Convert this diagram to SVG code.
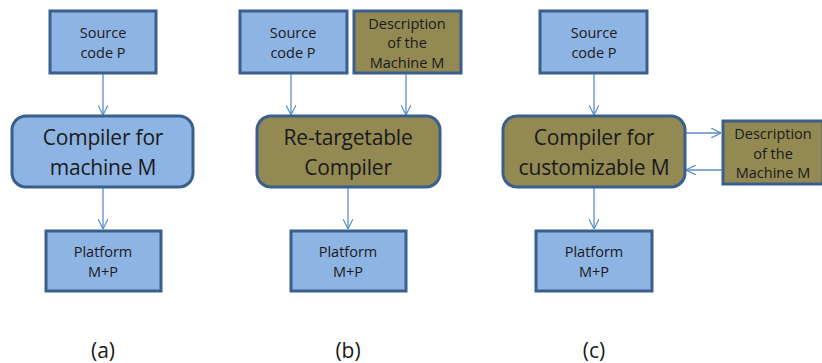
<svg xmlns="http://www.w3.org/2000/svg" width="822" height="363" viewBox="0 0 822 363">
<defs>
<marker id="ah" viewBox="0 0 10 10" refX="10" refY="5" markerWidth="10" markerHeight="10" markerUnits="userSpaceOnUse" orient="auto">
<path d="M0,0 L10,5 L0,10" fill="none" stroke="#5B8DCB" stroke-width="1.2"/>
</marker>
<style>
.blue{fill:#8EB4E3;stroke:#3A5F8C;stroke-width:3}
.olive{fill:#938953;stroke:#3A5F8C;stroke-width:3}
.conn line{stroke:#5B8DCB;stroke-width:1.3;marker-end:url(#ah)}
text{font-family:"Open Sans","Liberation Sans",sans-serif;fill:#1a1a1a;text-anchor:middle;dominant-baseline:central}
.s{font-size:14.5px}
.l{font-size:21px;letter-spacing:-0.2px}
.lab{font-size:21px;font-family:"Open Sans","Liberation Sans",sans-serif}
</style>
</defs>
<rect width="822" height="363" fill="#ffffff"/>

<g class="conn">
<line x1="103" y1="73" x2="103" y2="115"/>
<line x1="103" y1="187" x2="103" y2="229"/>
<line x1="291" y1="73" x2="291" y2="115"/>
<line x1="406" y1="73" x2="406" y2="115"/>
<line x1="348" y1="187" x2="348" y2="229"/>
<line x1="594" y1="73" x2="594" y2="115"/>
<line x1="594" y1="187" x2="594" y2="229"/>
<line x1="685" y1="133" x2="721" y2="133"/>
<line x1="722" y1="170" x2="686" y2="170"/>
</g>

<g id="a-source"><rect class="blue" x="50" y="11" width="106" height="62"/><text class="s" x="103" y="32">Source</text><text class="s" x="103" y="52">code P</text></g>
<g id="a-compiler"><rect class="blue" x="12" y="116" width="181" height="71" rx="14"/><text class="l" x="103" y="137">Compiler for</text><text class="l" x="103" y="167">machine M</text></g>
<g id="a-platform"><rect class="blue" x="46" y="231" width="115" height="60"/><text class="s" x="103" y="251">Platform</text><text class="s" x="103" y="271">M+P</text></g>

<g id="b-source"><rect class="blue" x="240" y="11" width="107" height="62"/><text class="s" x="293" y="32">Source</text><text class="s" x="293" y="52">code P</text></g>
<g id="b-desc"><rect class="olive" x="354" y="11" width="107" height="62"/><text class="s" x="407" y="23">Description</text><text class="s" x="407" y="42">of the</text><text class="s" x="407" y="62">Machine M</text></g>
<g id="b-compiler"><rect class="olive" x="257" y="116" width="183" height="71" rx="14"/><text class="l" x="348" y="137">Re-targetable</text><text class="l" x="348" y="167">Compiler</text></g>
<g id="b-platform"><rect class="blue" x="291" y="231" width="115" height="60"/><text class="s" x="348" y="251">Platform</text><text class="s" x="348" y="271">M+P</text></g>

<g id="c-source"><rect class="blue" x="540" y="11" width="107" height="62"/><text class="s" x="594" y="32">Source</text><text class="s" x="594" y="52">code P</text></g>
<g id="c-compiler"><rect class="olive" x="503" y="116" width="182" height="71" rx="14"/><text class="l" x="594" y="137">Compiler for</text><text class="l" x="594" y="167">customizable M</text></g>
<g id="c-desc"><rect class="olive" x="723" y="121" width="100" height="63"/><text class="s" x="773" y="133">Description</text><text class="s" x="773" y="153">of the</text><text class="s" x="773" y="172">Machine M</text></g>
<g id="c-platform"><rect class="blue" x="536" y="231" width="116" height="60"/><text class="s" x="594" y="251">Platform</text><text class="s" x="594" y="271">M+P</text></g>

<text class="lab" x="103" y="350">(a)</text>
<text class="lab" x="348" y="350">(b)</text>
<text class="lab" x="594" y="350">(c)</text>
</svg>
